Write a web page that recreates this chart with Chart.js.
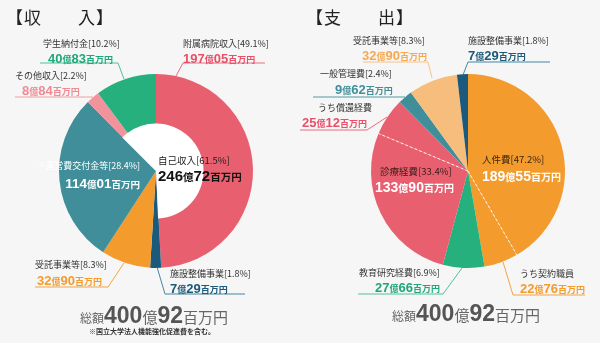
<!DOCTYPE html>
<html lang="ja">
<head>
<meta charset="utf-8">
<script src="https://cdn.jsdelivr.net/npm/chart.js@4.4.1/dist/chart.umd.min.js"></script>
<style>
  html, body { margin: 0; padding: 0; }
  body { width: 600px; height: 343px; position: relative; overflow: hidden; background: #f6f6f6;
         font-family: "Noto Sans CJK JP", "Liberation Sans", sans-serif; color: #333; }
  canvas { position: absolute; top: 0; }
  #incomeChart { left: 0; }
  #expenseChart { left: 300px; }
  svg { position: absolute; left: 0; top: 0; }
  .t { position: absolute; white-space: nowrap; line-height: 1; transform: translateY(-50%); }
  .r { transform: translate(-100%, -50%); text-align: right; }
  .c { transform: translate(-50%, -50%); }
  .name { font-size: 9px; }
  .n { font-family: "Liberation Sans", Arial, sans-serif; font-weight: bold; }
  .u { font-weight: bold; }
  .title { font-size: 17px; letter-spacing: 1px; color: #222; }
  .total { color: #666; }
  .note { font-size: 7px; font-weight: bold; color: #333; }
</style>
</head>
<body>
<canvas id="incomeChart" width="300" height="343"></canvas>
<canvas id="expenseChart" width="300" height="343"></canvas>
<svg id="leaders" width="600" height="343"></svg>
<div id="texts"></div>
<script>
// ---- data (億円) ----
const incomeCategories = ['附属病院収入', '施設整備事業', '受託事業等', '運営費交付金等', 'その他収入', '学生納付金'];
const incomeValues = [197.05, 7.29, 32.90, 114.01, 8.84, 40.83];
const incomeShares = [49.1, 1.8, 8.3, 28.4, 2.2, 10.2];
const incomeOwn = ['附属病院収入', 'その他収入', '学生納付金']; // 自己収入

const expenseCategories = ['人件費', '教育研究経費', '診療経費', '一般管理費', '受託事業等', '施設整備事業'];
const expenseValues = [189.55, 27.66, 133.90, 9.62, 32.90, 7.29];
const expenseShares = [47.2, 6.9, 33.4, 2.4, 8.3, 1.8];
const expenseSubCategories = ['うち契約職員', 'うち償還経費'];
const expenseSubParents = ['人件費', '診療経費'];
const expenseSubValues = [22.76, 25.12];

const incomeColors = ['#e8606f', '#1b5a7a', '#f39b2d', '#3f8e99', '#f2939b', '#25b07e'];
const expenseColors = ['#f39b2d', '#25b07e', '#e8606f', '#3f8e99', '#f7bd7c', '#1b5a7a'];

// ---- helpers ----
const sum = arr => arr.reduce((a, b) => a + b, 0);

function yen(v, numSize, unitSize) {
  const [oku, man] = v.toFixed(2).split('.');
  return `<span class="n" style="font-size:${numSize}px">${oku}</span><span class="u" style="font-size:${unitSize}px">億</span>` +
         `<span class="n" style="font-size:${numSize}px">${man}</span><span class="u" style="font-size:${unitSize}px">百万円</span>`;
}

const textBox = document.getElementById('texts');
function put(html, x, y, style, cls) {
  const d = document.createElement('div');
  d.className = 't ' + (cls || '');
  d.style.left = x + 'px';
  d.style.top = y + 'px';
  if (style) d.style.cssText += style;
  d.innerHTML = html;
  textBox.appendChild(d);
}

const svg = document.getElementById('leaders');
function leader(points, color) {
  const p = document.createElementNS('http://www.w3.org/2000/svg', 'polyline');
  p.setAttribute('points', points.map(q => q.join(',')).join(' '));
  p.setAttribute('fill', 'none');
  p.setAttribute('stroke', color);
  p.setAttribute('stroke-width', '0.9');
  svg.appendChild(p);
}

// white hole inside the 自己収入 slices
const ownHole = {
  id: 'ownHole',
  afterDatasetsDraw(chart) {
    const ctx = chart.ctx;
    chart.getDatasetMeta(0).data.forEach((arc, i) => {
      if (!incomeOwn.includes(incomeCategories[i])) return;
      const { x, y, startAngle, endAngle, outerRadius } = arc.getProps(['x', 'y', 'startAngle', 'endAngle', 'outerRadius'], true);
      ctx.save();
      ctx.beginPath();
      ctx.moveTo(x, y);
      ctx.arc(x, y, outerRadius * 0.49, startAngle - 0.01, endAngle + 0.01);
      ctx.closePath();
      ctx.fillStyle = '#ffffff';
      ctx.fill();
      ctx.restore();
    });
  }
};

// dashed separators for the うち〜 parts
const subLines = {
  id: 'subLines',
  afterDatasetsDraw(chart) {
    const ctx = chart.ctx;
    const meta = chart.getDatasetMeta(0);
    expenseSubSplit.forEach(idx => {
      const arc = meta.data[idx];
      const { x, y, endAngle, outerRadius } = arc.getProps(['x', 'y', 'endAngle', 'outerRadius'], true);
      ctx.save();
      ctx.strokeStyle = 'rgba(255,255,255,0.9)';
      ctx.lineWidth = 1;
      ctx.setLineDash([3, 2]);
      ctx.beginPath();
      ctx.moveTo(x, y);
      ctx.lineTo(x + Math.cos(endAngle) * outerRadius, y + Math.sin(endAngle) * outerRadius);
      ctx.stroke();
      ctx.restore();
    });
  }
};

// expense segments: each うち part is cut off the end of its parent slice
const expenseSegValues = [];
const expenseSegColors = [];
const expenseSubSplit = [];
expenseCategories.forEach((cat, i) => {
  const s = expenseSubParents.indexOf(cat);
  if (s >= 0) {
    expenseSegValues.push(expenseValues[i] - expenseSubValues[s], expenseSubValues[s]);
    expenseSegColors.push(expenseColors[i], expenseColors[i]);
    expenseSubSplit.push(expenseSegValues.length - 2);
  } else {
    expenseSegValues.push(expenseValues[i]);
    expenseSegColors.push(expenseColors[i]);
  }
});

function pieOptions(padding) {
  return {
    responsive: false,
    animation: false,
    layout: { padding },
    plugins: { legend: { display: false }, tooltip: { enabled: false } },
    elements: { arc: { borderWidth: 0 } }
  };
}

new Chart(document.getElementById('incomeChart'), {
  type: 'pie',
  data: { labels: incomeCategories, datasets: [{ data: incomeValues, backgroundColor: incomeColors, borderWidth: 0 }] },
  options: pieOptions({ left: 59, right: 47, top: 74, bottom: 75 }),
  plugins: [ownHole]
});

new Chart(document.getElementById('expenseChart'), {
  type: 'pie',
  data: { datasets: [{ data: expenseSegValues, backgroundColor: expenseSegColors, borderWidth: 0 }] },
  options: pieOptions({ left: 71, right: 35, top: 74, bottom: 75 }),
  plugins: [subLines]
});

// ---- titles ----
put('【収　　入】', 6, 16, '', 'title');
put('【支　　出】', 306, 16, '', 'title');

// ---- income labels ----
const inc = c => incomeCategories.indexOf(c);
const outLabel = (name, share, v, x, y, vx, vy, color) => {
  put(name + (share !== null ? `[${share.toFixed(1)}%]` : ''), x, y, '', 'name');
  put(yen(v, 13, 9), vx, vy, 'color:' + color);
};

outLabel('附属病院収入', incomeShares[inc('附属病院収入')], incomeValues[inc('附属病院収入')], 183, 43, 183, 56, '#e8506a');
leader([[176, 76], [183, 63], [265, 63]], '#e8606f');
outLabel('学生納付金', incomeShares[inc('学生納付金')], incomeValues[inc('学生納付金')], 43, 43, 48, 56, '#1fa877');
leader([[40, 63], [118, 63], [124, 79]], '#3dbb90');
outLabel('その他収入', incomeShares[inc('その他収入')], incomeValues[inc('その他収入')], 15, 75, 22, 88, '#f08a95');
leader([[15, 97], [93, 97]], '#f2939b');
outLabel('受託事業等', incomeShares[inc('受託事業等')], incomeValues[inc('受託事業等')], 35, 264, 37, 278, '#f39b2d');
leader([[35, 287], [108, 287], [124, 263]], '#f39b2d');
outLabel('施設整備事業', incomeShares[inc('施設整備事業')], incomeValues[inc('施設整備事業')], 170, 273, 170, 286, '#1b5a7a');
leader([[157, 267], [165, 294], [245, 294]], '#2f7a96');

// inside labels
put(`<span style="font-size:7px;vertical-align:2px">※</span>運営費交付金等[${incomeShares[inc('運営費交付金等')].toFixed(1)}%]`, 140, 165, 'color:#fff;font-size:9px', 'r');
put(yen(incomeValues[inc('運営費交付金等')], 13.5, 9.5), 140, 182, 'color:#fff', 'r');
const ownTotal = sum(incomeOwn.map(c => incomeValues[inc(c)]));
const ownShare = sum(incomeOwn.map(c => incomeShares[inc(c)]));
put(`自己収入[${ownShare.toFixed(1)}%]`, 158, 161, 'color:#222;font-size:9.5px');
put(yen(ownTotal, 15, 10.5), 158, 174, 'color:#111');

// ---- expense labels ----
const exp = c => expenseCategories.indexOf(c);
outLabel('受託事業等', expenseShares[exp('受託事業等')], expenseValues[exp('受託事業等')], 353, 40, 362, 53, '#f5a951');
leader([[363, 62], [428, 62], [432, 78]], '#f7bd7c');
outLabel('施設整備事業', expenseShares[exp('施設整備事業')], expenseValues[exp('施設整備事業')], 468, 40, 468, 53, '#1b5a7a');
leader([[463, 75], [468, 62], [550, 62]], '#2f7a96');
outLabel('一般管理費', expenseShares[exp('一般管理費')], expenseValues[exp('一般管理費')], 320, 73, 335, 87, '#3f8e99');
leader([[313, 97], [405, 97]], '#3f8e99');
const sub = c => expenseSubCategories.indexOf(c);
outLabel('うち償還経費', null, expenseSubValues[sub('うち償還経費')], 318, 107, 302, 120, '#e8506a');
leader([[300, 130], [367, 130], [387, 117]], '#e8606f');
outLabel('教育研究経費', expenseShares[exp('教育研究経費')], expenseValues[exp('教育研究経費')], 359, 272, 375, 285, '#1fa877');
leader([[358, 294], [443, 294], [462, 268]], '#3dbb90');
outLabel('うち契約職員', null, expenseSubValues[sub('うち契約職員')], 520, 273, 520, 286, '#f39b2d');
leader([[503, 262], [513, 295], [585, 295]], '#f39b2d');

put(`人件費[${expenseShares[exp('人件費')].toFixed(1)}%]`, 482, 160, 'color:#3a2510;font-size:9.5px');
put(yen(expenseValues[exp('人件費')], 14, 10), 482, 174, 'color:#fff');
put(`診療経費[${expenseShares[exp('診療経費')].toFixed(1)}%]`, 380, 172, 'color:#3a1a1a;font-size:9.5px');
put(yen(expenseValues[exp('診療経費')], 14, 10), 375, 185, 'color:#fff');

// ---- totals ----
function totalHtml(v) {
  const [oku, man] = v.toFixed(2).split('.');
  return `<span style="font-size:12px">総額</span><span class="n" style="font-size:23px;color:#555">${oku}</span>` +
         `<span style="font-size:15px">億</span><span class="n" style="font-size:23px;color:#555">${man}</span>` +
         `<span style="font-size:15px">百万円</span>`;
}
put(totalHtml(sum(incomeValues)), 154, 315, '', 'c total');
put(totalHtml(sum(expenseValues)), 466, 313, '', 'c total');
put('※国立大学法人機能強化促進費を含む。', 152, 331, '', 'c note');
</script>
</body>
</html>
